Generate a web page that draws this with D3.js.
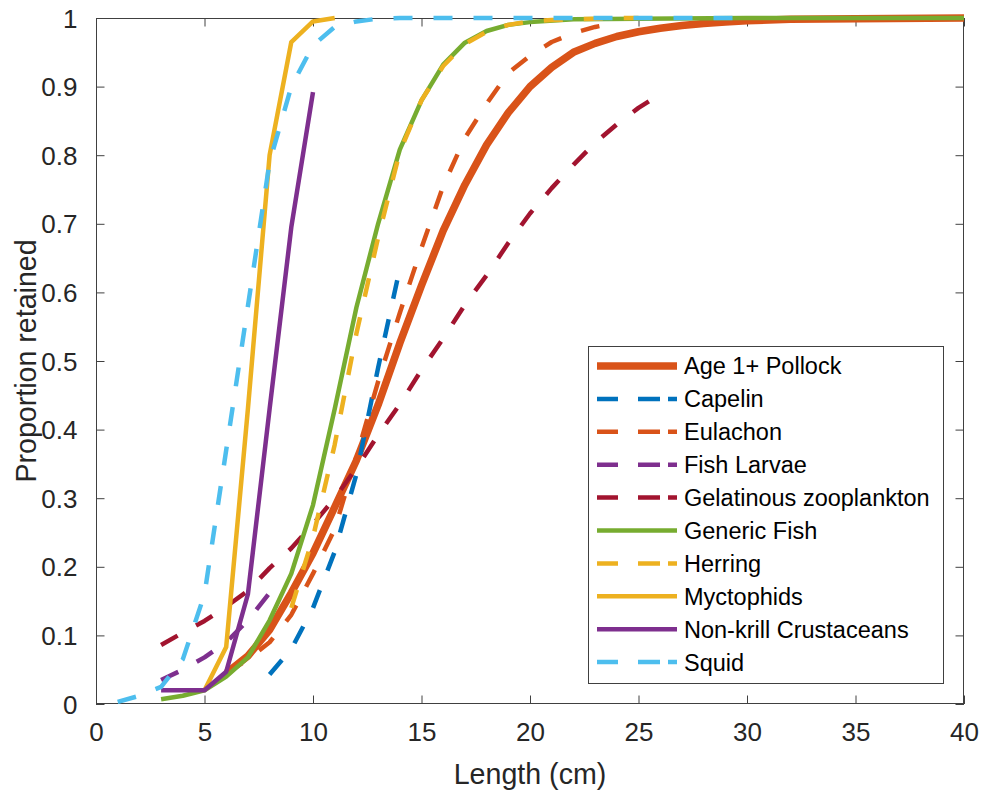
<!DOCTYPE html>
<html>
<head>
<meta charset="utf-8">
<script src="https://cdn.jsdelivr.net/npm/d3@7/dist/d3.min.js"></script>
<style>
  html, body { margin: 0; padding: 0; background: #ffffff; }
  svg { display: block; font-family: "Liberation Sans", Arial, sans-serif; }
</style>
</head>
<body>
<svg id="chart" width="984" height="792"></svg>
<script>
// Selectivity (proportion retained) by length for each group
const pollockLen = [6, 7, 8, 9, 10, 11, 12, 13, 14, 15, 16, 17, 18, 19, 20, 21, 22, 23, 24, 25, 26, 27, 28, 29, 30, 32, 35, 40];
const pollockRet = [0.045, 0.07, 0.108, 0.162, 0.22, 0.287, 0.355, 0.436, 0.526, 0.61, 0.69, 0.757, 0.815, 0.862, 0.9, 0.928, 0.95, 0.963, 0.973, 0.98, 0.985, 0.989, 0.992, 0.994, 0.996, 0.998, 0.999, 1.0];

const capelinLen = [8, 9, 10, 11, 12, 13, 14];
const capelinRet = [0.043, 0.08, 0.14, 0.222, 0.335, 0.49, 0.635];

const eulachonLen = [6, 7, 8, 9, 10, 11, 12, 13, 14, 15, 16, 17, 18, 19, 20, 21, 22, 23, 24];
const eulachonRet = [0.045, 0.065, 0.09, 0.13, 0.19, 0.255, 0.36, 0.47, 0.57, 0.665, 0.755, 0.825, 0.875, 0.92, 0.945, 0.965, 0.978, 0.987, 0.993];

const larvaeLen = [3, 4, 5, 6, 7, 8];
const larvaeRet = [0.035, 0.05, 0.068, 0.09, 0.122, 0.162];

const gelatinousLen = [3, 4, 5, 6, 7, 8, 9, 10, 11, 12, 13, 14, 15, 16, 17, 18, 19, 20, 21, 22, 23, 24, 25, 26, 26.2];
const gelatinousRet = [0.086, 0.104, 0.121, 0.142, 0.165, 0.198, 0.227, 0.262, 0.3, 0.344, 0.392, 0.437, 0.487, 0.533, 0.582, 0.625, 0.672, 0.715, 0.752, 0.786, 0.818, 0.845, 0.869, 0.889, 0.893];

const genericLen = [3, 4, 5, 6, 7, 8, 9, 10, 11, 12, 13, 14, 15, 16, 17, 18, 19, 20, 22, 25, 30, 40];
const genericRet = [0.007, 0.012, 0.02, 0.04, 0.068, 0.122, 0.19, 0.29, 0.43, 0.578, 0.7, 0.808, 0.88, 0.932, 0.964, 0.981, 0.99, 0.994, 0.998, 0.999, 1.0, 1.0];

const herringLen = [9, 10, 11, 12, 13, 14, 15, 16, 17, 18, 19, 20, 21, 22, 23, 24, 25];
const herringRet = [0.14, 0.243, 0.378, 0.54, 0.68, 0.805, 0.88, 0.93, 0.962, 0.98, 0.99, 0.995, 0.997, 0.998, 0.999, 1.0, 1.0];

const myctophidLen = [5, 6, 7, 8, 9, 10, 11];
const myctophidRet = [0.02, 0.083, 0.43, 0.8, 0.965, 0.995, 1.0];

const crustaceanLen = [3, 4, 5, 6, 7, 8, 9, 10];
const crustaceanRet = [0.02, 0.02, 0.02, 0.047, 0.16, 0.43, 0.695, 0.892];

const squidLen = [1, 2, 3, 4, 5, 6, 7, 8, 9, 10, 11, 12, 13, 14, 30];
const squidRet = [0.003, 0.012, 0.025, 0.065, 0.16, 0.37, 0.58, 0.79, 0.9, 0.96, 0.987, 0.995, 0.999, 1.0, 1.0];

const seriesNames = ["Age 1+ Pollock", "Capelin", "Eulachon", "Fish Larvae", "Gelatinous zooplankton",
                     "Generic Fish", "Herring", "Myctophids", "Non-krill Crustaceans", "Squid"];

const xTicks = [0, 5, 10, 15, 20, 25, 30, 35, 40];
const yTicks = [0, 0.1, 0.2, 0.3, 0.4, 0.5, 0.6, 0.7, 0.8, 0.9, 1];
const xTitle = "Length (cm)";
const yTitle = "Proportion retained";

// Line styling per group
const styles = [
  { color: "#D95319", width: 7.5, dashed: false },
  { color: "#0072BD", width: 4.5, dashed: true },
  { color: "#D95319", width: 4.5, dashed: true },
  { color: "#7E2F8E", width: 4.5, dashed: true },
  { color: "#A2142F", width: 4.5, dashed: true },
  { color: "#77AC30", width: 4.5, dashed: false },
  { color: "#EDB120", width: 4.5, dashed: true },
  { color: "#EDB120", width: 4.5, dashed: false },
  { color: "#7E2F8E", width: 4.5, dashed: false },
  { color: "#4DBEEE", width: 4.5, dashed: true }
];

const lengths = [pollockLen, capelinLen, eulachonLen, larvaeLen, gelatinousLen, genericLen, herringLen, myctophidLen, crustaceanLen, squidLen];
const retained = [pollockRet, capelinRet, eulachonRet, larvaeRet, gelatinousRet, genericRet, herringRet, myctophidRet, crustaceanRet, squidRet];

const series = seriesNames.map((name, i) => ({
  name,
  style: styles[i],
  points: lengths[i].map((x, j) => ({ x, y: retained[i][j] }))
}));

const svg = d3.select("#chart");
const plot = { left: 96, right: 964, top: 18, bottom: 704 };
const axisColor = "#404040";
const tickLen = 8.5;

const x = d3.scaleLinear().domain([0, 40]).range([plot.left, plot.right]);
const y = d3.scaleLinear().domain([0, 1]).range([plot.bottom, plot.top]);

// Axes with inward ticks on all four sides
const gx = svg.append("g").attr("transform", `translate(0,${plot.bottom})`)
  .call(d3.axisBottom(x).tickValues(xTicks).tickSizeInner(-tickLen).tickSizeOuter(0).tickPadding(tickLen + 10).tickFormat(d3.format("d")));
const gxTop = svg.append("g").attr("transform", `translate(0,${plot.top})`)
  .call(d3.axisTop(x).tickValues(xTicks).tickSizeInner(-tickLen).tickSizeOuter(0).tickFormat(""));
const gy = svg.append("g").attr("transform", `translate(${plot.left},0)`)
  .call(d3.axisLeft(y).tickValues(yTicks).tickSizeInner(-tickLen).tickSizeOuter(0).tickPadding(tickLen + 10).tickFormat(d => d3.format("~g")(d)));
const gyRight = svg.append("g").attr("transform", `translate(${plot.right},0)`)
  .call(d3.axisRight(y).tickValues(yTicks).tickSizeInner(-tickLen).tickSizeOuter(0).tickFormat(""));

[gx, gxTop, gy, gyRight].forEach(g => {
  g.select(".domain").remove();
  g.selectAll(".tick line").attr("stroke", axisColor).attr("stroke-width", 1);
  g.selectAll(".tick text").attr("fill", "#262626").attr("font-size", 26)
    .attr("font-family", "'Liberation Sans', Arial, sans-serif");
});
gx.selectAll(".tick text").attr("dy", "0.71em");
gy.selectAll(".tick text").attr("dy", "0.35em");

svg.append("rect")
  .attr("x", plot.left + 0.5).attr("y", plot.top + 0.5)
  .attr("width", plot.right - plot.left - 1).attr("height", plot.bottom - plot.top - 1)
  .attr("fill", "none").attr("stroke", axisColor).attr("stroke-width", 1);

// Axis titles
svg.append("text")
  .attr("x", (plot.left + plot.right) / 2).attr("y", 784)
  .attr("text-anchor", "middle").attr("font-size", 28.6).attr("fill", "#262626")
  .text(xTitle);
svg.append("text")
  .attr("transform", `translate(36,${(plot.top + plot.bottom) / 2}) rotate(-90)`)
  .attr("text-anchor", "middle").attr("font-size", 28.6).attr("fill", "#262626")
  .text(yTitle);

// Curves
const line = d3.line().x(d => x(d.x)).y(d => y(d.y));
svg.append("g").selectAll("path").data(series).join("path")
  .attr("d", d => line(d.points))
  .attr("fill", "none")
  .attr("stroke", d => d.style.color)
  .attr("stroke-width", d => d.style.width)
  .attr("stroke-linejoin", "round")
  .attr("stroke-dasharray", d => d.style.dashed ? "19,21" : null);

// Legend
const legend = { left: 588, top: 346, width: 355, height: 337, rowTop: 366, rowGap: 32.9 };
svg.append("rect")
  .attr("x", legend.left + 0.5).attr("y", legend.top + 0.5)
  .attr("width", legend.width).attr("height", legend.height)
  .attr("fill", "#ffffff").attr("stroke", axisColor).attr("stroke-width", 1);

const rows = svg.append("g").selectAll("g").data(series).join("g")
  .attr("transform", (d, i) => `translate(0,${legend.rowTop + i * legend.rowGap})`);
rows.append("line")
  .attr("x1", 597).attr("x2", 677).attr("y1", 0).attr("y2", 0)
  .attr("stroke", d => d.style.color)
  .attr("stroke-width", d => d.style.width)
  .attr("stroke-dasharray", d => d.style.dashed ? "21,20,22,8,10" : null);
rows.append("text")
  .attr("x", 684).attr("y", 0).attr("dy", "0.36em")
  .attr("font-size", 23.5).attr("fill", "#000000")
  .text(d => d.name);
</script>
</body>
</html>
